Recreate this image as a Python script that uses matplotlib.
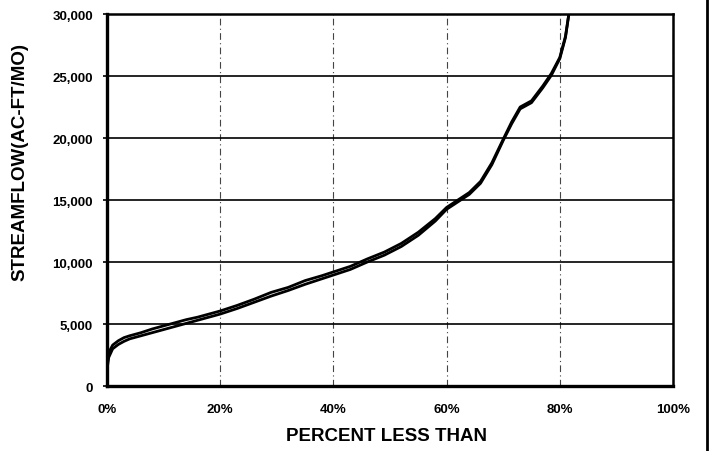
import matplotlib.pyplot as plt
from matplotlib.lines import Line2D
from matplotlib.ticker import FuncFormatter

plt.rcParams['font.family'] = ['Liberation Sans', 'DejaVu Sans']

# flow duration curve
percent = [0, 0.3, 1, 2, 3, 4, 6, 8, 10, 12, 14, 16, 18, 20, 23, 26, 29, 32,
           35, 38, 40, 43, 46, 49, 52, 55, 58, 60, 62, 64, 66, 68, 70, 71.5,
           73, 75, 77, 78.5, 80, 81, 81.6, 82.2]
flow_upper = [1500, 2700, 3300, 3650, 3900, 4050, 4300, 4600, 4850, 5100,
              5350, 5550, 5800, 6050, 6500, 7000, 7550, 7950, 8500, 8900,
              9200, 9650, 10250, 10800, 11500, 12400, 13500, 14400, 15000,
              15600, 16500, 18000, 19900, 21300, 22500, 23000, 24200, 25200,
              26500, 28200, 30000, 31500]
flow_lower = [1300, 2300, 3000, 3350, 3600, 3800, 4050, 4300, 4550, 4800,
              5050, 5300, 5550, 5800, 6250, 6750, 7250, 7700, 8200, 8650,
              8950, 9400, 10000, 10550, 11250, 12150, 13300, 14250, 14850,
              15450, 16350, 17850, 19800, 21150, 22350, 22850, 24050, 25050,
              26400, 28100, 30000, 31500]

y_ticks = [0, 5000, 10000, 15000, 20000, 25000, 30000]
x_ticks = [0, 20, 40, 60, 80, 100]

fig = plt.figure(figsize=(7.1, 4.52), dpi=100)
ax = fig.add_axes([107 / 710, 1 - 387 / 452, 566 / 710, 372 / 452])

ax.plot(percent, flow_upper, color='black', lw=2.0, solid_joinstyle='round', zorder=3)
ax.plot(percent, flow_lower, color='black', lw=2.0, solid_joinstyle='round', zorder=3)

ax.set_xlim(0, 100)
ax.set_ylim(0, 30000)
ax.set_xticks(x_ticks)
ax.set_yticks(y_ticks)
ax.xaxis.set_major_formatter(FuncFormatter(lambda v, p: f'{v:.0f}%'))
ax.yaxis.set_major_formatter(FuncFormatter(lambda v, p: f'{v:,.0f}'))

ax.grid(axis='y', color='black', lw=1.2, linestyle='-')
ax.grid(axis='x', color='#444444', lw=0.8, linestyle=(0, (6, 3, 1, 3)))
ax.set_axisbelow(True)

for side, w in [('left', 2.4), ('bottom', 2.4), ('top', 1.8), ('right', 1.8)]:
    ax.spines[side].set_linewidth(w)

ax.tick_params(axis='y', length=3, width=1.2, pad=7, labelsize=9.5)
ax.tick_params(axis='x', length=0, pad=12, labelsize=9.5)
for lab in ax.get_xticklabels() + ax.get_yticklabels():
    lab.set_fontweight('bold')

fig.text(386 / 710, 1 - 437 / 452, 'PERCENT LESS THAN', ha='center', va='center',
         fontsize=13.5, fontweight='bold')
fig.text(20 / 710, 1 - 162 / 452, 'STREAMFLOW(AC-FT/MO)', ha='center', va='center',
         rotation=90, fontsize=13.5, fontweight='bold')

# scan edge on the right
fig.add_artist(Line2D([707 / 710, 707 / 710], [0, 1], color='black', lw=2,
                      transform=fig.transFigure))

fig.savefig('out.png', dpi=100)
